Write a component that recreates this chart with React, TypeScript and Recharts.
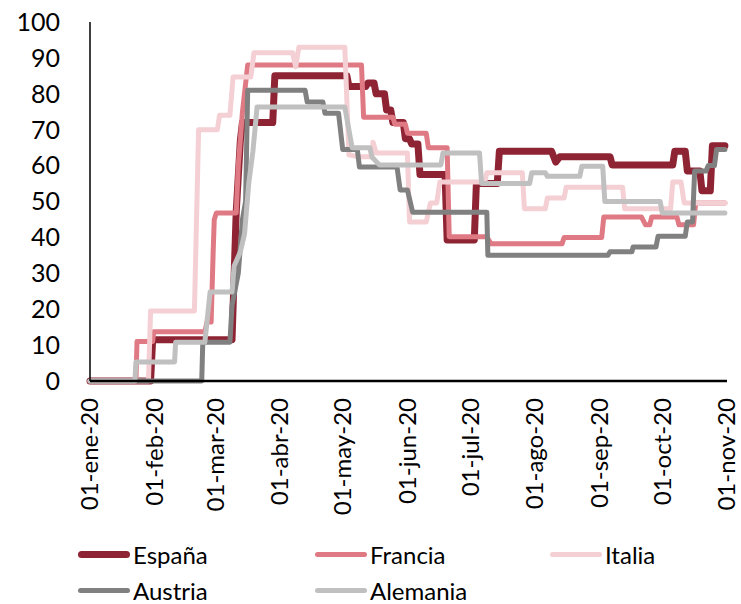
import { LineChart, Line, XAxis, YAxis } from 'recharts';

// x = day of 2020 (0 = 1 Jan), y = index level
const monthTicks = [0, 31, 60, 91, 121, 152, 182, 213, 244, 274, 305];
const monthLabels = [
  '01-ene-20', '01-feb-20', '01-mar-20', '01-abr-20', '01-may-20', '01-jun-20',
  '01-jul-20', '01-ago-20', '01-sep-20', '01-oct-20', '01-nov-20',
];
const valueTicks = [0, 10, 20, 30, 40, 50, 60, 70, 80, 90, 100];

const espana: [number, number][] = [
  [0, 0], [29, 0], [30, 11.5], [68, 11.5], [70, 47], [72, 67], [73, 72], [87.5, 72], [88.5, 85],
  [123, 85], [124, 82], [132, 82], [133, 83], [136, 83], [137, 80], [141, 80], [142, 75.5],
  [144, 75.5], [145, 72], [150, 72], [151, 67.5], [153, 67.5], [154, 66], [157, 66], [158, 57.5],
  [170, 57.5], [171, 39.3], [184, 39.3], [185, 55], [195, 55], [196, 64], [221, 64], [223, 61],
  [225, 62.5], [249, 62.5], [250, 60.2], [279, 60.2], [280, 64], [285, 64], [286, 58.5],
  [292, 58.5], [293, 53], [297, 53], [298, 65.5], [304, 65.5],
];

const francia: [number, number][] = [
  [0, 0], [22, 0], [22.5, 11], [30, 11], [30.5, 13.7], [55, 13.7], [56, 16.4], [58, 16.4],
  [59, 36.5], [59.5, 45], [60.5, 46.8], [70, 46.8], [71, 60], [73, 75], [75.5, 88], [130, 88],
  [131, 73.5], [145, 73.5], [146, 71.5], [151, 71.5], [152, 69], [161, 69], [162, 65], [171, 65],
  [172, 40.2], [190, 40.2], [192, 38.2], [226, 38.2], [227, 40], [245, 40], [246, 45.7],
  [264, 45.7], [266, 43.5], [268, 43.5], [269, 45.7], [281, 45.7], [282, 43.5], [289, 43.5],
  [290, 49.6], [304, 49.6],
];

const italia: [number, number][] = [
  [0, 0], [28, 0], [29, 19.5], [50, 19.5], [52, 70], [61, 70], [62, 74], [67, 74], [68.5, 84.7],
  [77, 84.7], [78.5, 91.4], [97, 91.4], [98.5, 87.5], [100, 93], [122, 93], [124, 63],
  [128, 62.5], [135, 62.5], [135.5, 66.5], [137, 63.5], [152, 63.5], [153, 44.3], [161, 44.3],
  [163, 49.6], [166, 49.6], [167.5, 55.4], [189, 55.4], [190, 58], [207, 58], [208, 48],
  [218, 48], [219, 51], [227, 51], [228, 54], [255, 54], [256, 48], [278, 48], [279, 55.4],
  [283, 55.4], [284.5, 49.6], [304, 49.6],
];

const austria: [number, number][] = [
  [0, 0], [53.5, 0], [54, 10.8], [67, 10.8], [68, 21], [71, 30], [73, 45], [74.5, 50], [75.5, 81],
  [103, 81], [104, 77.7], [111.5, 77.7], [112.5, 74.6], [119, 74.6], [121, 64.5], [128, 64.5],
  [129, 59.6], [147, 59.6], [148.5, 53.2], [152, 53.2], [154.5, 47], [190, 47], [190.5, 35],
  [248, 35], [249, 36], [259.5, 36], [260, 37.3], [271, 37.3], [272, 40.3], [285, 40.3],
  [286, 44.3], [288.5, 44.3], [289.5, 58.5], [295, 58.5], [296, 60], [299, 60], [300, 64.5],
  [304, 64.5],
];

const alemania: [number, number][] = [
  [0, 0], [21.5, 0], [22, 5.3], [40.5, 5.3], [41, 10.8], [55, 10.8], [57.5, 24.8], [68, 24.8],
  [69, 32], [72, 36], [74, 41], [76, 55], [78, 64], [80, 76.3], [122, 76.3], [125.5, 65],
  [134, 65], [135, 62.4], [138.5, 60.2], [168, 60.2], [169, 63.5], [186.5, 63.5], [187.5, 55],
  [210.5, 55], [211.5, 58], [218, 58], [219, 57], [234.5, 57], [235.5, 59.8], [245.5, 59.8],
  [246.5, 50], [273, 50], [274, 46.8], [304, 46.8],
];

const series = [
  { name: 'España', color: '#8E2433', width: 7, points: espana },
  { name: 'Francia', color: '#DF7A84', width: 5, points: francia },
  { name: 'Italia', color: '#F4CFD4', width: 5, points: italia },
  { name: 'Austria', color: '#808080', width: 5, points: austria },
  { name: 'Alemania', color: '#C0C0C0', width: 5, points: alemania },
];

const FONT = 'Lato, "Open Sans", sans-serif';

const DateTick = ({ x, y, payload }: any) => {
  const i = monthTicks.indexOf(payload.value);
  const ty = y + 9;
  return (
    <text
      x={x}
      y={ty}
      dy="0.35em"
      transform={`rotate(-90, ${x}, ${ty})`}
      textAnchor="end"
      fill="#000"
      fontSize={24}
      fontFamily={FONT}
    >
      {monthLabels[i]}
    </text>
  );
};

// three-column legend under the axis labels
function LegendBox() {
  return (
    <div
      style={{
        position: 'absolute', left: 78, top: 536, width: 650,
        display: 'grid', gridTemplateColumns: '237px 235px 160px',
        fontFamily: FONT, fontSize: 24, color: '#000',
      }}
    >
      {series.map(s => (
        <div key={s.name} style={{ height: 36, display: 'flex', alignItems: 'center', whiteSpace: 'nowrap' }}>
          <span
            style={{
              display: 'inline-block', width: 52, height: s.width, borderRadius: s.width / 2,
              background: s.color, marginRight: 3,
            }}
          />
          <span>{s.name}</span>
        </div>
      ))}
    </div>
  );
}

export default function App() {
  return (
    <div style={{ position: 'absolute', left: 0, top: 0, width: 741, height: 604, background: '#fff' }}>
      <LineChart width={741} height={604} margin={{ top: 22, right: 14, bottom: 0, left: 0 }}>
        <XAxis
          type="number"
          dataKey="d"
          domain={[0, 305]}
          ticks={monthTicks}
          interval={0}
          tick={<DateTick />}
          tickLine={false}
          axisLine={{ stroke: '#000', strokeWidth: 2.5 }}
          height={223}
        />
        <YAxis
          type="number"
          domain={[0, 100]}
          ticks={valueTicks}
          interval={0}
          width={90}
          tickLine={false}
          tickMargin={24}
          axisLine={{ stroke: '#000', strokeWidth: 1.5 }}
          tick={{ fill: '#000', fontSize: 25, fontFamily: FONT }}
        />
        {series.map(s => (
          <Line
            key={s.name}
            name={s.name}
            data={s.points.map(([d, v]) => ({ d, v }))}
            dataKey="v"
            type="linear"
            stroke={s.color}
            strokeWidth={s.width}
            strokeLinejoin="round"
            strokeLinecap="round"
            dot={false}
            activeDot={false}
            isAnimationActive={false}
          />
        ))}
      </LineChart>
      <LegendBox />
    </div>
  );
}
